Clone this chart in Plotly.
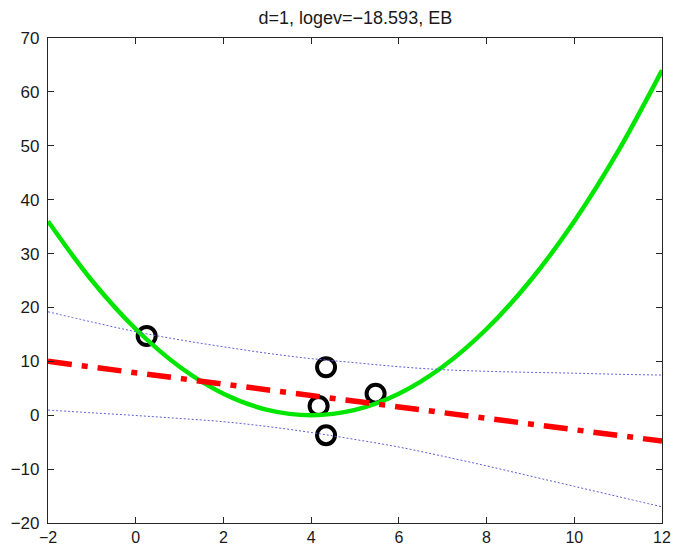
import plotly.graph_objects as go

# observed data points
obs_x = [0.25, 4.34, 4.17, 5.47, 4.34]
obs_y = [14.7, 8.9, 1.7, 4.0, -3.7]

# true function sampled on a grid
grid_x = [-2, -1, 0, 1, 2, 3, 4, 5, 6, 7, 8, 9, 10, 11, 12]
true_y = [36, 25, 16, 9, 4, 1, 0, 1, 4, 9, 16, 25, 36, 49, 64]

# posterior predictive band (upper / lower)
band_upper = [19.2, 17.3, 15.5, 14.0, 12.7, 11.5, 10.5, 9.75, 9.0, 8.45, 8.15, 7.95, 7.8, 7.6, 7.45]
band_lower = [0.95, 0.45, -0.05, -0.6, -1.2, -2.1, -3.2, -4.5, -5.9, -7.6, -9.4, -11.3, -13.2, -15.1, -17.0]

# fitted linear model (d=1) evaluated at the domain ends
fit_x = [-2, 12]
fit_y = [10.0, -4.8]

title_text = "d=1, logev=\u221218.593, EB"
x_ticks = [-2, 0, 2, 4, 6, 8, 10, 12]
y_ticks = [-20, -10, 0, 10, 20, 30, 40, 50, 60, 70]

FONT = "Liberation Sans, Arial, Helvetica, sans-serif"

fig = go.Figure()

fig.add_trace(go.Scatter(
    x=obs_x, y=obs_y, mode="markers",
    marker=dict(symbol="circle-open", size=18, color="black",
                line=dict(width=4, color="black")),
    showlegend=False,
))

fig.add_trace(go.Scatter(
    x=grid_x, y=true_y, mode="lines", line_shape="spline",
    line=dict(color="#00e600", width=4.5),
    showlegend=False,
))

fig.add_trace(go.Scatter(
    x=fit_x, y=fit_y, mode="lines",
    line=dict(color="#ff0000", width=5.5, dash="24px,10px,6px,10px"),
    showlegend=False,
))

for band in (band_upper, band_lower):
    fig.add_trace(go.Scatter(
        x=grid_x, y=band, mode="lines", line_shape="spline",
        line=dict(color="#6060d8", width=1, dash="2px,2px"),
        showlegend=False,
    ))

axis_common = dict(
    showgrid=False, zeroline=False, automargin=False,
    showline=True, linecolor="#262626", linewidth=1.2,
    mirror="ticks", ticks="inside", ticklen=6, tickcolor="#262626",
)

fig.update_layout(
    width=673, height=549,
    margin=dict(l=48, r=11, t=38, b=26),
    paper_bgcolor="white", plot_bgcolor="white",
    title=dict(text=title_text, x=0.528, xanchor="center", y=0.967, yanchor="middle",
               automargin=False,
               font=dict(family=FONT, size=18, color="#1a1a1a")),
    xaxis=dict(range=[-2, 12], tickvals=x_ticks, ticklabelstandoff=0,
               tickfont=dict(family=FONT, size=16, color="#1a1a1a"), **axis_common),
    yaxis=dict(range=[-20, 70], tickvals=y_ticks, ticklabelstandoff=4,
               tickfont=dict(family=FONT, size=17, color="#1a1a1a"), **axis_common),
)

fig.write_html("out.html")
